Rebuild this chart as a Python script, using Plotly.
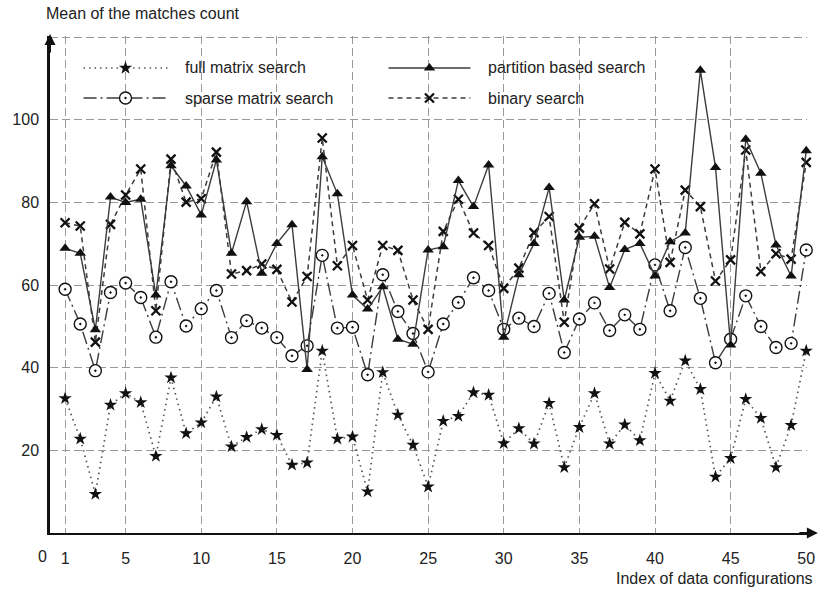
import plotly.graph_objects as go

# ---------------- data ----------------
config_index = list(range(1, 51))

full_matrix = [32.6, 22.8, 9.4, 31.0, 33.8, 31.6, 18.6, 37.6, 24.1, 26.7,
               33.0, 20.9, 23.2, 25.1, 23.7, 16.5, 17.0, 44.1, 22.8, 23.3,
               10.0, 38.9, 28.6, 21.3, 11.2, 27.1, 28.3, 34.0, 33.4, 21.7,
               25.3, 21.6, 31.4, 15.9, 25.6, 33.8, 21.6, 26.2, 22.4, 38.7,
               32.0, 41.7, 34.8, 13.6, 18.1, 32.4, 27.8, 15.9, 26.1, 44.1]

sparse_matrix = [59.0, 50.6, 39.3, 58.2, 60.5, 57.0, 47.4, 60.8, 50.1, 54.3,
                 58.7, 47.3, 51.4, 49.6, 47.3, 42.9, 45.3, 67.2, 49.6, 49.8,
                 38.3, 62.5, 53.6, 48.3, 39.0, 50.6, 55.8, 61.8, 58.7, 49.3,
                 52.0, 50.0, 58.0, 43.7, 51.8, 55.7, 49.0, 52.8, 49.3, 64.9,
                 53.8, 69.1, 56.8, 41.2, 46.9, 57.4, 50.0, 44.9, 45.9, 68.5]

partition_based = [68.9, 67.7, 49.2, 81.3, 80.0, 80.8, 57.6, 88.9, 84.0, 77.0,
                   90.3, 67.7, 80.2, 62.9, 70.1, 74.6, 39.6, 91.1, 82.1, 57.6,
                   54.2, 59.6, 46.9, 45.7, 68.5, 69.3, 85.3, 79.0, 89.1, 47.4,
                   62.5, 70.1, 83.6, 56.4, 71.6, 71.8, 59.4, 68.6, 70.1, 62.2,
                   70.5, 72.6, 112.0, 88.5, 45.5, 95.3, 87.1, 69.7, 62.2, 92.5]

binary_search = [75.1, 74.3, 46.2, 74.7, 81.8, 88.1, 53.8, 90.5, 80.1, 80.9,
                 92.2, 62.7, 63.5, 65.1, 63.8, 55.9, 62.1, 95.6, 64.7, 69.6,
                 56.4, 69.6, 68.4, 56.4, 49.3, 73.0, 80.8, 72.6, 69.6, 59.2,
                 64.1, 72.7, 76.6, 51.0, 73.8, 79.7, 63.9, 75.2, 72.4, 88.1,
                 65.5, 83.0, 79.0, 61.0, 66.1, 92.7, 63.3, 67.6, 66.3, 89.7]

series_names = ["full matrix search", "sparse matrix search",
                "partition based search", "binary search"]

x_tickvals = [1, 5, 10, 15, 20, 25, 30, 35, 40, 45, 50]
y_tickvals = [20, 40, 60, 80, 100, 120]
y_ticktext = ["20", "40", "60", "80", "100", ""]

# ---------------- layout geometry ----------------
W, H = 827, 598
ML, MR, MT, MB = 48, 12, 36, 65
PW, PH = W - ML - MR, H - MT - MB
X_MAX, Y_MAX = 50.05, 120.3


def fx(px):
    return (px - ML) / PW


def fy(py):
    return (MT + PH - py) / PH


FONT = "Liberation Sans, Arial, sans-serif"
TXT = "#222222"
LINE_C = "#3c3c3c"
MK_C = "#111111"

styles = {
    series_names[0]: dict(line=dict(color="#555555", width=1.7, dash="1.5px,4px"),
                          marker=dict(symbol="star", size=10, color=MK_C)),
    series_names[1]: dict(line=dict(color=LINE_C, width=1.4, dash="13px,4px,2px,4px"),
                          marker=dict(symbol="circle-dot", size=12, color="white",
                                      line=dict(color=MK_C, width=1.4))),
    series_names[2]: dict(line=dict(color=LINE_C, width=1.4),
                          marker=dict(symbol="triangle-up", size=10, color=MK_C)),
    series_names[3]: dict(line=dict(color=LINE_C, width=1.5, dash="5px,4px"),
                          marker=dict(symbol="x-thin", size=9, color=MK_C,
                                      line=dict(color=MK_C, width=2.3))),
}

values = {
    series_names[0]: full_matrix,
    series_names[1]: sparse_matrix,
    series_names[2]: partition_based,
    series_names[3]: binary_search,
}

fig = go.Figure()

for name in [series_names[1], series_names[0], series_names[3], series_names[2]]:
    st = styles[name]
    fig.add_trace(go.Scatter(x=config_index, y=values[name], mode="lines+markers",
                             name=name, line=st["line"], marker=st["marker"],
                             showlegend=False, cliponaxis=False))

# ---------------- manual legend (two columns) ----------------
legend_items = [
    (series_names[0], 82, 167, 183, 68),
    (series_names[1], 82, 167, 183, 98),
    (series_names[2], 391, 474, 490, 68),
    (series_names[3], 391, 474, 490, 98),
]
for name, x0, x1, xt, yc in legend_items:
    st = styles[name]
    fig.add_trace(go.Scatter(x=[fx(x0), fx(x1)], y=[fy(yc), fy(yc)], mode="lines",
                             line=st["line"], xaxis="x2", yaxis="y2",
                             showlegend=False, hoverinfo="skip"))
    fig.add_trace(go.Scatter(x=[fx((x0 + x1) / 2)], y=[fy(yc)], mode="markers",
                             marker=st["marker"], xaxis="x2", yaxis="y2",
                             showlegend=False, hoverinfo="skip"))

shapes = [
    dict(type="rect", xref="paper", yref="paper", x0=fx(70), x1=fx(352),
         y0=fy(113), y1=fy(42), fillcolor="white", line=dict(width=0), layer="between"),
    dict(type="rect", xref="paper", yref="paper", x0=fx(358), x1=fx(578),
         y0=fy(113), y1=fy(42), fillcolor="white", line=dict(width=0), layer="between"),
    # x axis extension beyond the last gridline
    dict(type="line", xref="paper", yref="paper", x0=1, x1=fx(824), y0=0, y1=0,
         line=dict(color="#111", width=2), layer="above"),
]

annotations = []
for name, x0, x1, xt, yc in legend_items:
    annotations.append(dict(xref="paper", yref="paper", x=fx(xt), y=fy(yc), text=name,
                            showarrow=False, xanchor="left", yanchor="middle",
                            font=dict(family=FONT, size=16, color=TXT)))

annotations += [
    dict(xref="paper", yref="paper", x=fx(42), y=fy(14), text="Mean of the matches count",
         showarrow=False, xanchor="left", yanchor="middle",
         font=dict(family=FONT, size=16, color=TXT)),
    dict(xref="paper", yref="paper", x=fx(823), y=fy(578), text="Index of data configurations",
         showarrow=False, xanchor="right", yanchor="middle",
         font=dict(family=FONT, size=16, color=TXT)),
    dict(xref="paper", yref="paper", x=fx(40), y=fy(556), text="0",
         showarrow=False, xanchor="center", yanchor="middle",
         font=dict(family=FONT, size=16, color=TXT)),
    # axis arrows
    dict(xref="paper", yref="paper", x=0, y=fy(34), ax=0, ay=20, axref="pixel", ayref="pixel",
         text="", showarrow=True, arrowhead=2, arrowsize=1.1, arrowwidth=2, arrowcolor="#111"),
    dict(xref="paper", yref="paper", x=fx(826), y=0, ax=-20, ay=0, axref="pixel", ayref="pixel",
         text="", showarrow=True, arrowhead=2, arrowsize=1.1, arrowwidth=2, arrowcolor="#111"),
]

fig.update_layout(
    width=W, height=H,
    margin=dict(l=ML, r=MR, t=MT, b=MB, pad=0),
    paper_bgcolor="white", plot_bgcolor="white",
    font=dict(family=FONT, size=16, color=TXT),
    showlegend=False,
    xaxis=dict(range=[0, X_MAX], tickvals=x_tickvals,
               ticktext=[str(v) for v in x_tickvals],
               showgrid=True, gridcolor="#9a9a9a", gridwidth=1.2, griddash="8px,4px",
               zeroline=False, showline=True, linecolor="#111", linewidth=2,
               ticks="", ticklabelstandoff=10,
               tickfont=dict(family=FONT, size=16, color=TXT)),
    yaxis=dict(range=[0, Y_MAX], tickvals=y_tickvals, ticktext=y_ticktext,
               showgrid=True, gridcolor="#9a9a9a", gridwidth=1.2, griddash="8px,4px",
               zeroline=False, showline=True, linecolor="#111", linewidth=2.5,
               ticks="", ticklabelstandoff=5,
               tickfont=dict(family=FONT, size=16, color=TXT)),
    xaxis2=dict(overlaying="x", range=[0, 1], visible=False, showgrid=False),
    yaxis2=dict(overlaying="y", range=[0, 1], visible=False, showgrid=False),
    shapes=shapes,
    annotations=annotations,
)

fig.write_html("out.html",
               config={"displayModeBar": False},
               post_script="document.body.style.margin='0px';document.body.style.overflow='hidden';")
